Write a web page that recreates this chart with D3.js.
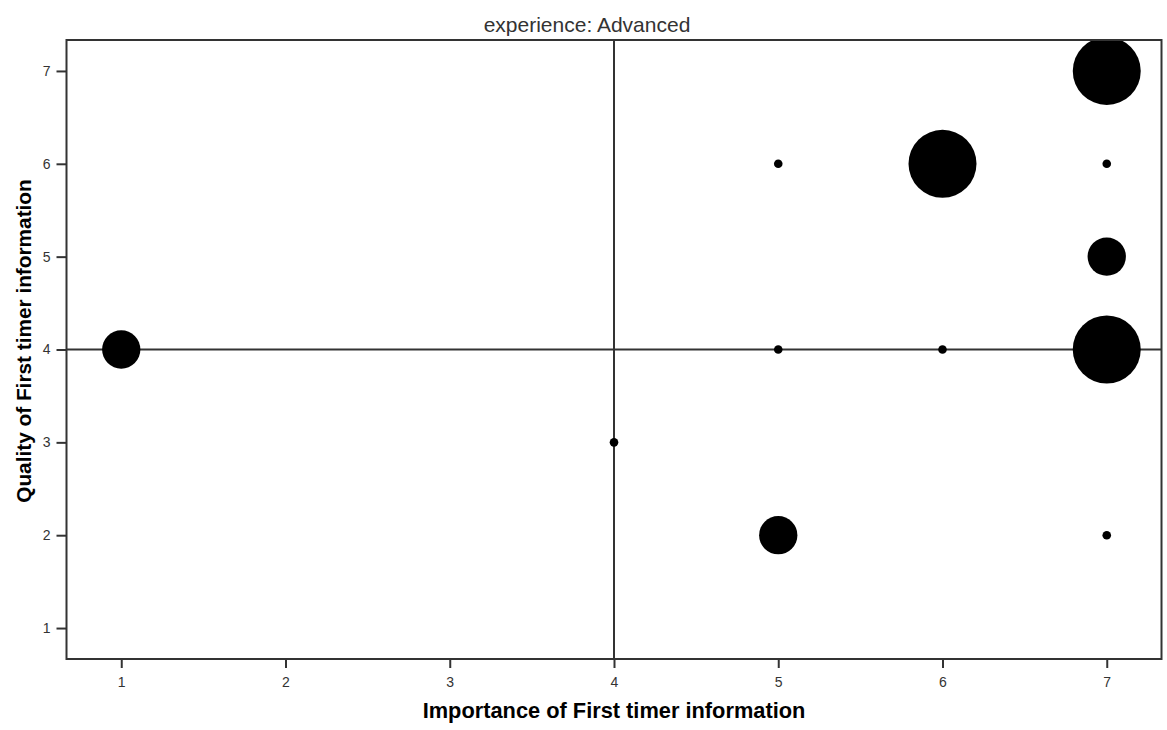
<!DOCTYPE html>
<html>
<head>
<meta charset="utf-8">
<script src="https://cdn.jsdelivr.net/npm/d3@7"></script>
<style>
  html, body { margin: 0; padding: 0; background: #fff; }
  svg { display: block; font-family: "Liberation Sans", Arial, sans-serif; }
</style>
</head>
<body>
<svg id="chart" width="1167" height="730"></svg>
<script>
// Bubble data: importance (x), quality (y), respondent count (bubble size)
const importance = [1, 4, 5, 5, 5, 6, 6, 7, 7, 7, 7, 7];
const quality    = [4, 3, 6, 4, 2, 6, 4, 7, 6, 5, 4, 2];
const counts     = [2, 1, 1, 1, 2, 3, 1, 3, 1, 2, 3, 1];
const xTicks = [1, 2, 3, 4, 5, 6, 7];
const yTicks = [1, 2, 3, 4, 5, 6, 7];
const refX = 4;
const refY = 4;
const panelTitle = "experience: Advanced";
const xTitle = "Importance of First timer information";
const yTitle = "Quality of First timer information";

const svg = d3.select("#chart");
const plot = { left: 66.5, right: 1161.5, top: 40, bottom: 659 };

const x = d3.scaleLinear().domain([2 / 3, 22 / 3]).range([plot.left, plot.right]);
const y = d3.scaleLinear().domain([2 / 3, 22 / 3]).range([plot.bottom, plot.top]);
const r = d3.scaleLinear().domain([1, 3]).range([4.3, 34]);

const points = importance.map((v, i) => ({ x: v, y: quality[i], n: counts[i] }));

svg.append("defs").append("clipPath").attr("id", "plot-clip")
  .append("rect")
  .attr("x", plot.left).attr("y", plot.top)
  .attr("width", plot.right - plot.left).attr("height", plot.bottom - plot.top);

// Reference lines
const refs = svg.append("g").attr("clip-path", "url(#plot-clip)")
  .attr("stroke", "#333").attr("stroke-width", 2);
refs.append("line")
  .attr("x1", x(refX)).attr("x2", x(refX))
  .attr("y1", plot.top).attr("y2", plot.bottom);
refs.append("line")
  .attr("x1", plot.left).attr("x2", plot.right)
  .attr("y1", y(refY)).attr("y2", y(refY));

// Bubbles
svg.append("g").attr("clip-path", "url(#plot-clip)")
  .selectAll("circle")
  .data(points)
  .join("circle")
  .attr("cx", d => x(d.x))
  .attr("cy", d => y(d.y))
  .attr("r", d => r(d.n))
  .attr("fill", "#000");

// Axes
const xAxis = svg.append("g")
  .attr("transform", `translate(0,${plot.bottom})`)
  .call(d3.axisBottom(x).tickValues(xTicks).tickFormat(d3.format("d")).tickSize(9).tickPadding(9));
const yAxis = svg.append("g")
  .attr("transform", `translate(${plot.left},0)`)
  .call(d3.axisLeft(y).tickValues(yTicks).tickFormat(d3.format("d")).tickSize(10).tickPadding(6));

[xAxis, yAxis].forEach(g => {
  g.select(".domain").remove();
  g.selectAll(".tick line").attr("stroke", "#333").attr("stroke-width", 2);
  g.selectAll(".tick text")
    .attr("fill", "#333")
    .style("font-size", "14px")
    .style("font-family", "\"Liberation Sans\", Arial, sans-serif");
});

// Plot frame
svg.append("rect")
  .attr("x", plot.left).attr("y", plot.top)
  .attr("width", plot.right - plot.left).attr("height", plot.bottom - plot.top)
  .attr("fill", "none").attr("stroke", "#333").attr("stroke-width", 2);

// Titles
svg.append("text")
  .attr("x", 587).attr("y", 31.5)
  .attr("text-anchor", "middle")
  .attr("fill", "#333")
  .style("font-size", "21px")
  .text(panelTitle);

svg.append("text")
  .attr("x", (plot.left + plot.right) / 2).attr("y", 717.5)
  .attr("text-anchor", "middle")
  .attr("fill", "#000")
  .style("font-size", "21.8px").style("font-weight", "bold")
  .text(xTitle);

svg.append("text")
  .attr("transform", "translate(31,341) rotate(-90)")
  .attr("text-anchor", "middle")
  .attr("fill", "#000")
  .style("font-size", "20.8px").style("font-weight", "bold")
  .text(yTitle);
</script>
</body>
</html>
